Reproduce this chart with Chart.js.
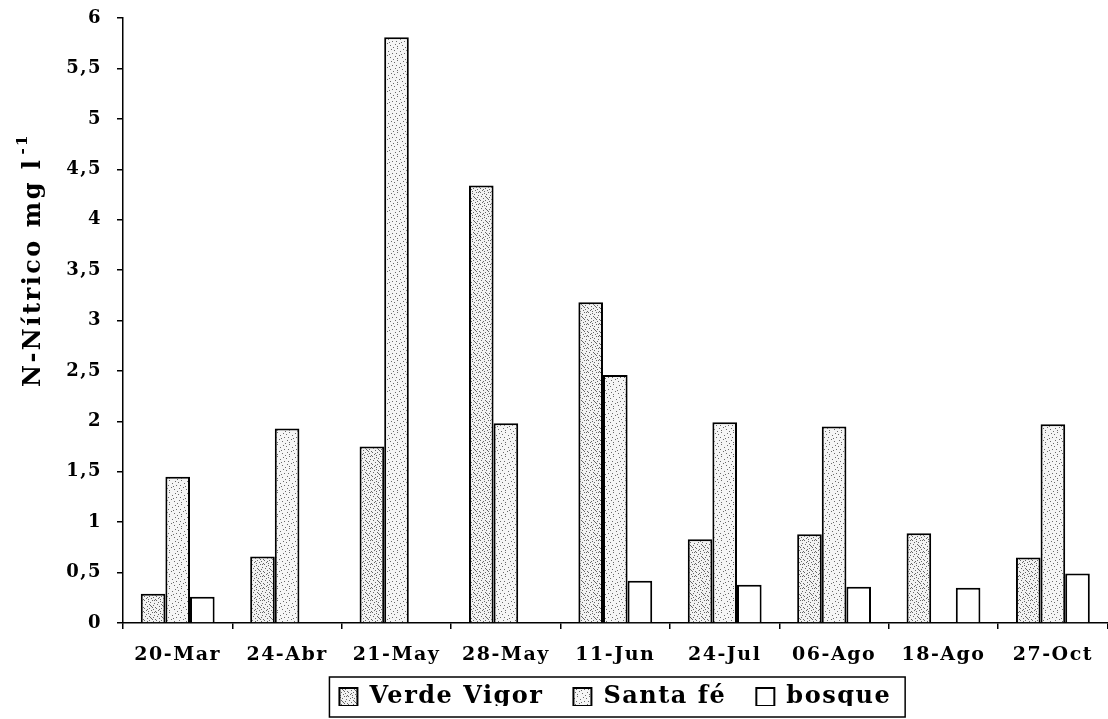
<!DOCTYPE html>
<html lang="es">
<head>
<meta charset="utf-8">
<title>N-Nítrico mg l-1</title>
<script src="https://cdn.jsdelivr.net/npm/chart.js@4.4.1/dist/chart.umd.min.js"></script>
<style>
  html, body { margin: 0; padding: 0; background: #ffffff; }
  canvas { display: block; background: #ffffff; }
</style>
</head>
<body>
<canvas id="chart" width="1108" height="719"></canvas>
<script>
// Sampling dates
const categories = ['20-Mar', '24-Abr', '21-May', '28-May', '11-Jun', '24-Jul', '06-Ago', '18-Ago', '27-Oct'];

// Nitrate nitrogen (mg l-1) per site; null = no sample
const verdeVigor = [0.29, 0.66, 1.75, 4.34, 3.18, 0.83, 0.88, 0.89, 0.65];
const santaFe    = [1.45, 1.93, 5.81, 1.98, 2.46, 1.99, 1.95, null, 1.97];
const bosque     = [0.26, null, null, null, 0.42, 0.38, 0.36, 0.35, 0.49];

const seriesNames = ['Verde Vigor', 'Santa fé', 'bosque'];

// Y-axis tick labels (decimal comma)
const yTickLabels = ['0', '0,5', '1', '1,5', '2', '2,5', '3', '3,5', '4', '4,5', '5', '5,5', '6'];

const FONT = "'DejaVu Serif', 'Liberation Serif', serif";

// Stipple tiles for the shaded bars
const denseDots = [[0,0],[4,1],[8,0],[2,2],[6,2],[10,3],[1,4],[5,4],[9,5],[3,6],[7,6],[11,7],[0,8],[5,8],[9,9],[2,10],[7,10],[11,11],[4,11],[6,5],[10,0],[3,9],[8,7]];
const lightDots = [[1,0],[7,1],[4,3],[10,2],[0,5],[8,5],[3,7],[11,8],[6,9],[1,10],[9,11],[5,6]];

function stipple(size, dots, dotColor, base) {
  const c = document.createElement('canvas');
  c.width = size; c.height = size;
  const g = c.getContext('2d');
  g.fillStyle = base;
  g.fillRect(0, 0, size, size);
  g.fillStyle = dotColor;
  dots.forEach(([x, y]) => g.fillRect(x, y, 1, 1));
  return g.createPattern(c, 'repeat');
}

const ctx = document.getElementById('chart').getContext('2d');
const fillVerde = stipple(12, denseDots, '#666666', '#f2f2f2');
const fillSanta = stipple(12, lightDots, '#6a6a6a', '#f5f5f5');

// Slightly spread lettering for the wide serif look
const spacing = {
  id: 'spacing',
  beforeUpdate(chart) { chart.ctx.letterSpacing = '1.5px'; },
  beforeLayout(chart) { chart.ctx.letterSpacing = '1.5px'; },
  beforeDraw(chart) { chart.ctx.letterSpacing = '1.5px'; },
  // lift the legend row closer to the axis labels
  afterLayout(chart) {
    const lg = chart.legend;
    if (lg) { lg.top -= 13; lg.bottom -= 13; }
  }
};

// Rotated y-axis title with superscript exponent
const yTitle = {
  id: 'yTitle',
  afterDraw(chart) {
    const c = chart.ctx;
    c.save();
    c.letterSpacing = '2.5px';
    c.fillStyle = '#000';
    c.textBaseline = 'middle';
    c.textAlign = 'left';
    const main = 'N-Nítrico mg l';
    const sup = '-1';
    c.font = 'bold 24px ' + FONT;
    const w1 = c.measureText(main).width;
    c.font = 'bold 15px ' + FONT;
    const w2 = c.measureText(sup).width;
    const total = w1 + w2 + 3;
    c.translate(34, 260);
    c.rotate(-Math.PI / 2);
    c.font = 'bold 24px ' + FONT;
    c.fillText(main, -total / 2, 0);
    c.font = 'bold 15px ' + FONT;
    c.fillText(sup, -total / 2 + w1 + 3, -11);
    c.restore();
  }
};

// Frame around the legend entries
const legendFrame = {
  id: 'legendFrame',
  afterDraw(chart) {
    const lg = chart.legend;
    if (!lg || !lg.legendHitBoxes || !lg.legendHitBoxes.length) return;
    const hb = lg.legendHitBoxes;
    const first = hb[0], last = hb[hb.length - 1];
    const left = first.left - 10;
    const right = last.left + last.width + 14;
    const cy = first.top + first.height / 2;
    const c = chart.ctx;
    c.save();
    c.strokeStyle = '#000';
    c.lineWidth = 1.5;
    c.strokeRect(left, cy - 20, right - left, 40);
    c.restore();
  }
};

const barStyle = {
  borderColor: '#000000',
  borderWidth: 2,
  barPercentage: 1.0,
  categoryPercentage: 0.675
};

new Chart(ctx, {
  type: 'bar',
  data: {
    labels: categories,
    datasets: [
      Object.assign({ label: seriesNames[0], data: verdeVigor, backgroundColor: fillVerde }, barStyle),
      Object.assign({ label: seriesNames[1], data: santaFe, backgroundColor: fillSanta }, barStyle),
      Object.assign({ label: seriesNames[2], data: bosque, backgroundColor: '#ffffff' }, barStyle)
    ]
  },
  options: {
    responsive: false,
    animation: false,
    layout: { padding: { top: 18, right: 0, bottom: 0, left: 0 } },
    scales: {
      x: {
        grid: {
          display: true,
          drawOnChartArea: false,
          drawTicks: true,
          tickLength: 6,
          color: '#000',
          lineWidth: 1.5,
          offset: true
        },
        border: { display: true, color: '#000', width: 1.5 },
        ticks: {
          color: '#000',
          font: { family: FONT, size: 19, weight: 'bold' },
          padding: 15,
          maxRotation: 0,
          autoSkip: false
        },
        afterFit(scale) { scale.height = 45; }
      },
      y: {
        min: 0,
        max: 6,
        grid: {
          display: true,
          drawOnChartArea: false,
          drawTicks: true,
          tickLength: 6,
          color: '#000',
          lineWidth: 1.5
        },
        border: { display: true, color: '#000', width: 1.5 },
        ticks: {
          stepSize: 0.5,
          color: '#000',
          font: { family: FONT, size: 18, weight: 'bold' },
          padding: 15,
          callback: (value, index) => yTickLabels[index]
        },
        afterFit(scale) {
          scale.width = 123;
          scale.paddingTop = 0;
          scale.paddingBottom = 0;
        }
      }
    },
    plugins: {
      legend: {
        position: 'bottom',
        fullSize: false,
        maxHeight: 51,
        labels: {
          color: '#000',
          font: { family: FONT, size: 24, weight: 'bold' },
          boxWidth: 18,
          boxHeight: 18,
          padding: 30
        }
      },
      tooltip: { enabled: false }
    }
  },
  plugins: [spacing, yTitle, legendFrame]
});
</script>
</body>
</html>
